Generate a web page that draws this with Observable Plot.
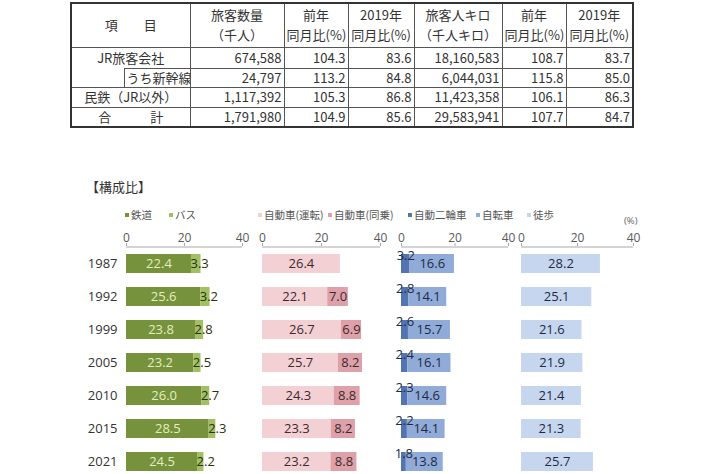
<!DOCTYPE html>
<html><head><meta charset="utf-8">
<script src="https://cdn.jsdelivr.net/npm/d3@7"></script>
<script src="https://cdn.jsdelivr.net/npm/@observablehq/plot@0.6"></script>
<style>
html,body{margin:0;padding:0;background:#fff;}
#wrap{position:relative;width:710px;height:474px;overflow:hidden;background:#fff;font-family:'Open Sans','Noto Sans CJK JP',sans-serif;}
#tbl{position:absolute;left:70px;top:2px;border-collapse:collapse;table-layout:fixed;width:562px;font:13px 'Noto Sans CJK JP',sans-serif;color:#333;border:2px solid #333;}
#tbl td,#tbl th{border:1px solid #555;padding:0 2px;white-space:nowrap;overflow:hidden;font-weight:normal;line-height:18px;}
#tbl th{line-height:20px;text-align:center;}
#tbl td.num{text-align:right;}
#tbl td.lab{text-align:center;}
.abs{position:absolute;white-space:nowrap;}
.leg{position:absolute;white-space:nowrap;font:10.5px 'Noto Sans CJK JP',sans-serif;color:#555;top:207px;}
.leg i{display:inline-block;width:4px;height:4px;margin-right:2px;vertical-align:middle;position:relative;top:-1px;}
</style></head>
<body><div id="wrap"></div>
<script>
// ---- table data ----
const tableHeaders = [["項　　目"],["旅客数量","（千人）"],["前年","同月比(%)"],["2019年","同月比(%)"],["旅客人キロ","（千人キロ）"],["前年","同月比(%)"],["2019年","同月比(%)"]];
const tableItems = ["JR旅客会社","うち新幹線","民鉄（JR以外）","合　　　計"];
const passengers = [674588, 24797, 1117392, 1791980];
const passengersYoY = [104.3, 113.2, 105.3, 104.9];
const passengersVs2019 = [83.6, 84.8, 86.8, 85.6];
const passengerKm = [18160583, 6044031, 11423358, 29583941];
const passengerKmYoY = [108.7, 115.8, 106.1, 107.7];
const passengerKmVs2019 = [83.7, 85.0, 86.3, 84.7];

// ---- chart data ----
const years = ["1987","1992","1999","2005","2010","2015","2021"];
const railCats = ["鉄道","バス"];
const carCats = ["自動車(運転)","自動車(同乗)"];
const bikeCats = ["自動二輪車","自転車"];
const walkCats = ["徒歩"];
const rail = [22.4, 25.6, 23.8, 23.2, 26.0, 28.5, 24.5];
const bus = [3.3, 3.2, 2.8, 2.5, 2.7, 2.3, 2.2];
const carDriver = [26.4, 22.1, 26.7, 25.7, 24.3, 23.3, 23.2];
const carPassenger = [null, 7.0, 6.9, 8.2, 8.8, 8.2, 8.8];
const motorcycle = [3.2, 2.8, 2.6, 2.4, 2.3, 2.2, 1.8];
const bicycle = [16.6, 14.1, 15.7, 16.1, 14.6, 14.1, 13.8];
const walk = [28.2, 25.1, 21.6, 21.9, 21.4, 21.3, 25.7];
const xTicks = [0, 20, 40];

const wrap = document.getElementById("wrap");
const f1 = v => (v == null ? "" : v.toFixed(1));
const fint = v => v.toLocaleString("en-US");

// ---- table ----
const tbl = document.createElement("table");
tbl.id = "tbl";
const colW = [53, 66, 94, 64, 66, 88, 64, 67];
let html = "<colgroup>" + colW.map(w => `<col style="width:${w}px">`).join("") + "</colgroup>";
html += `<tr style="height:44px">` + tableHeaders.map((h, j) => `<th${j === 0 ? ' colspan="2"' : ""}>${h.join("<br>")}</th>`).join("") + "</tr>";
const rowH = [21, 18, 20, 19];
tableItems.forEach((name, i) => {
  const nums = [fint(passengers[i]), f1(passengersYoY[i]), f1(passengersVs2019[i]), fint(passengerKm[i]), f1(passengerKmYoY[i]), f1(passengerKmVs2019[i])];
  let first;
  if (i === 1) first = `<td style="border-top:none;border-bottom:1px solid #555"></td><td class="lab" style="border-top:1px solid #555">${name}</td>`;
  else if (i === 0) first = `<td class="lab" colspan="2" style="border-bottom:none">${name}</td>`;
  else first = `<td class="lab" colspan="2">${name}</td>`;
  html += `<tr style="height:${rowH[i]}px">` + first + nums.map(n => `<td class="num">${n}</td>`).join("") + "</tr>";
});
tbl.innerHTML = html;
wrap.appendChild(tbl);

// ---- title, legends ----
function addText(txt, x, y, css) {
  const s = document.createElement("div");
  s.className = "abs";
  s.textContent = txt;
  s.style.left = x + "px"; s.style.top = y + "px";
  Object.assign(s.style, css || {});
  wrap.appendChild(s);
}
addText("【構成比】", 86, 177, {font: "13px 'Noto Sans CJK JP',sans-serif", color: "#333"});
addText("(%)", 624, 216, {font: "9.5px 'Open Sans',sans-serif", color: "#666", lineHeight: "10px"});

const colors = {
  "鉄道": "#76923c", "バス": "#a3bf63",
  "自動車(運転)": "#f3d0d4", "自動車(同乗)": "#dea1a9",
  "自動二輪車": "#5275b2", "自転車": "#91abd8",
  "徒歩": "#c7d6ef"
};
function legend(name, x) {
  const d = document.createElement("div");
  d.className = "leg";
  d.style.left = x + "px";
  d.innerHTML = `<i style="background:${colors[name]}"></i>${name}`;
  wrap.appendChild(d);
}
legend("鉄道", 125); legend("バス", 169);
legend("自動車(運転)", 258); legend("自動車(同乗)", 328);
legend("自動二輪車", 408); legend("自転車", 476); legend("徒歩", 527);

// ---- panels ----
const style = {fontFamily: "'Open Sans','Noto Sans CJK JP',sans-serif", fontSize: "13px", background: "transparent", overflow: "visible"};
function toLong(cats, series) {
  return cats.flatMap((c, k) => years.map((y, i) => ({year: y, cat: c, value: series[k][i]})).filter(d => d.value != null));
}
function panel({left, frameLeft, width, cats, series, texts, yAxis}) {
  const ml = frameLeft - left;
  const marks = [
    Plot.ruleY([years[0]], {x1: 0, x2: 40, dy: -17, stroke: "#a9a9a9", strokeWidth: 1}),
    Plot.axisX({anchor: "top", ticks: xTicks, tickSize: 3, tickPadding: 1, fontSize: 12, fill: "#595959", stroke: "#a9a9a9", label: null}),
    Plot.barX(toLong(cats, series), Plot.stackX({x: "value", y: "year", fill: "cat"})),
    ...texts
  ];
  if (yAxis) marks.push(Plot.axisY({tickSize: 0, tickPadding: 9, fontSize: 13, fill: "#333", label: null}));
  const svg = Plot.plot({
    width: ml + width + 6, height: 255,
    marginTop: 20, marginBottom: 0, marginLeft: ml, marginRight: 6,
    x: {domain: [0, 40], axis: null, label: null},
    y: {domain: years, axis: null, paddingInner: 0.433, paddingOuter: 0.224, label: null},
    color: {domain: cats, range: cats.map(c => colors[c])},
    style, marks
  });
  svg.style.position = "absolute";
  svg.style.left = left + "px";
  svg.style.top = "225px";
  wrap.appendChild(svg);
}
const yv = d => d;
panel({left: 70, frameLeft: 126, width: 116, cats: railCats, series: [rail, bus], yAxis: true, texts: [
  Plot.text(years, {x: (d, i) => rail[i] / 2, y: yv, text: (d, i) => f1(rail[i]), fill: "#e4eebf", fontSize: 13}),
  Plot.text(years, {x: (d, i) => rail[i], y: yv, text: (d, i) => f1(bus[i]), fill: "#27320f", fontSize: 13, textAnchor: "start", dx: -1})
]});
panel({left: 252, frameLeft: 262, width: 118, cats: carCats, series: [carDriver, carPassenger], texts: [
  Plot.text(years, {x: (d, i) => carDriver[i] / 2, y: yv, text: (d, i) => f1(carDriver[i]), fill: "#3b2a2d", fontSize: 13}),
  Plot.text(years, {filter: (d, i) => carPassenger[i] != null, x: (d, i) => carDriver[i] + (carPassenger[i] || 0) / 2, y: yv, text: (d, i) => f1(carPassenger[i]), fill: "#3b2a2d", fontSize: 13})
]});
panel({left: 391, frameLeft: 401, width: 107, cats: bikeCats, series: [motorcycle, bicycle], texts: [
  Plot.text(years, {x: (d, i) => motorcycle[i] / 2, y: yv, text: (d, i) => f1(motorcycle[i]), fill: "#1e2a44", fontSize: 13, dy: -8}),
  Plot.text(years, {x: (d, i) => motorcycle[i] + bicycle[i] / 2, y: yv, text: (d, i) => f1(bicycle[i]), fill: "#1e2a44", fontSize: 13})
]});
panel({left: 511, frameLeft: 521, width: 112, cats: walkCats, series: [walk], texts: [
  Plot.text(years, {x: (d, i) => walk[i] / 2, y: yv, text: (d, i) => f1(walk[i]), fill: "#1e2a44", fontSize: 13})
]});
</script></body></html>
